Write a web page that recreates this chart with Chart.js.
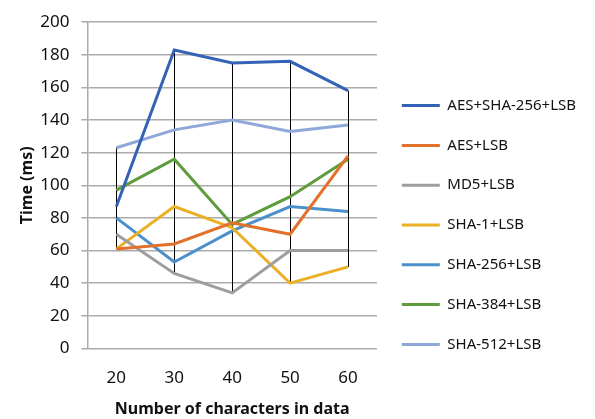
<!DOCTYPE html>
<html>
<head>
<meta charset="utf-8">
<script src="https://cdn.jsdelivr.net/npm/chart.js@4.4.0/dist/chart.umd.min.js"></script>
<style>
  html, body { margin: 0; padding: 0; background: #fff; }
  #wrap { width: 595px; height: 419px; }
</style>
</head>
<body>
<div id="wrap"><canvas id="myChart" width="595" height="419"></canvas></div>
<script>
// chart data
var categories = ['20', '30', '40', '50', '60'];
var aesSha256 = [87, 183, 175, 176, 158];
var aes = [61, 64, 77, 70, 118];
var md5 = [70, 46, 34, 60, 60];
var sha1 = [61, 87, 74, 40, 50];
var sha256 = [80, 53, 72, 87, 84];
var sha384 = [97, 116, 76, 93, 116];
var sha512 = [123, 134, 140, 133, 137];

var yTicks = [0, 20, 40, 60, 80, 100, 120, 140, 160, 180, 200];

var FONT = "'Noto Sans', 'DejaVu Sans', sans-serif";

function series(label, data, color) {
  return {
    label: label,
    data: data,
    borderColor: color,
    backgroundColor: color,
    borderWidth: 3,
    pointRadius: 0,
    tension: 0,
    fill: false
  };
}

// Excel style high-low lines: from max to min of all series at each category
var highLowLines = {
  id: 'highLowLines',
  beforeDatasetsDraw: function(chart) {
    var ctx = chart.ctx;
    var xs = chart.scales.x, ys = chart.scales.y;
    ctx.save();
    ctx.strokeStyle = '#000';
    ctx.lineWidth = 1;
    for (var i = 0; i < categories.length; i++) {
      var vals = chart.data.datasets.map(function(d) { return d.data[i]; });
      var hi = Math.max.apply(null, vals), lo = Math.min.apply(null, vals);
      var x = Math.round(xs.getPixelForValue(i)) + 0.5;
      ctx.beginPath();
      ctx.moveTo(x, ys.getPixelForValue(hi));
      ctx.lineTo(x, ys.getPixelForValue(lo));
      ctx.stroke();
    }
    ctx.restore();
  }
};

// give the legend a fixed width and push its items down a bit
var legendBox = {
  id: 'legendBox',
  beforeLayout: function(chart) {
    var lg = chart.legend;
    if (lg && !lg._fixed) {
      var fit = lg.fit;
      lg.fit = function() { fit.call(this); this.width = 218; };
      lg._fixed = true;
    }
  },
  afterLayout: function(chart) {
    if (chart.legend) chart.legend.top += 15;
  }
};

var config = {
  type: 'line',
  data: {
    labels: categories,
    datasets: [
      series('AES+SHA-256+LSB', aesSha256, '#3462B5'),
      series('AES+LSB', aes, '#E2712B'),
      series('MD5+LSB', md5, '#9E9E9E'),
      series('SHA-1+LSB', sha1, '#EBB023'),
      series('SHA-256+LSB', sha256, '#4B8FCB'),
      series('SHA-384+LSB', sha384, '#5E9C3C'),
      series('SHA-512+LSB', sha512, '#8EA8DA')
    ]
  },
  options: {
    responsive: false,
    animation: false,
    layout: { padding: { top: 16, bottom: 0, left: 18, right: 0 } },
    plugins: {
      tooltip: { enabled: false },
      legend: {
        position: 'right',
        align: 'center',
        labels: {
          font: { family: FONT, size: 15 },
          color: '#111',
          boxWidth: 38,
          boxHeight: 3,
          padding: 24.8,
          generateLabels: function(chart) {
            var items = Chart.defaults.plugins.legend.labels.generateLabels(chart);
            items.forEach(function(it) { it.fillStyle = it.strokeStyle; it.lineWidth = 0; });
            return items;
          }
        }
      }
    },
    scales: {
      x: {
        offset: true,
        grid: { display: false },
        border: { display: false },
        ticks: { font: { family: FONT, size: 17 }, color: '#111', padding: 11.5 },
        title: {
          display: true,
          text: 'Number of characters in data',
          font: { family: FONT, size: 16, weight: 'bold' },
          color: '#111',
          padding: { top: 0, bottom: 0 }
        }
      },
      y: {
        min: 0,
        max: 200,
        afterBuildTicks: function(axis) {
          axis.ticks = yTicks.map(function(v) { return { value: v }; });
        },
        grid: { color: '#ABABAB', lineWidth: 1.5, tickLength: 6 },
        border: { display: true, color: '#ABABAB', width: 1.5 },
        ticks: { font: { family: FONT, size: 17 }, color: '#111', padding: 12 },
        title: {
          display: true,
          text: 'Time (ms)',
          font: { family: FONT, size: 16, weight: 'bold' },
          color: '#111',
          padding: { top: 0, bottom: -9 }
        }
      }
    }
  },
  plugins: [highLowLines, legendBox]
};

var ctx = document.getElementById('myChart').getContext('2d');
var myChart = new Chart(ctx, config);
</script>
</body>
</html>
